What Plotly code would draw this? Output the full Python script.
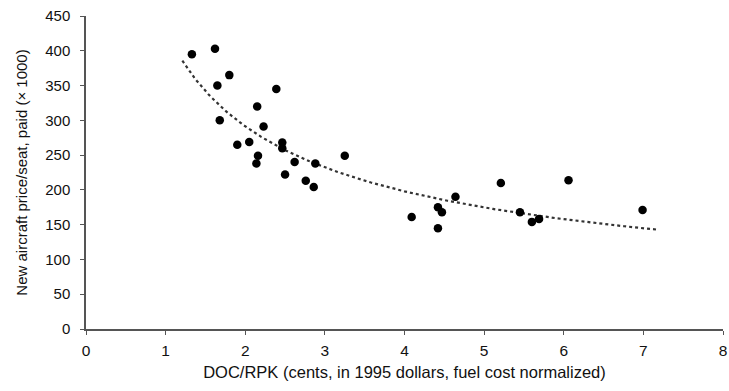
import numpy as np
import plotly.graph_objects as go

doc_rpk = [1.33, 1.62, 1.80, 1.65, 1.68, 1.90, 2.05, 2.15, 2.16, 2.14, 2.23, 2.39,
           2.465, 2.465, 2.62, 2.50, 2.88, 2.76, 2.86, 3.25,
           4.09, 4.42, 4.47, 4.42, 4.64, 5.21, 5.45, 5.60, 5.69, 6.06, 6.99]
price_seat = [395, 403, 365, 350, 300, 265, 269, 320, 249, 238, 291, 345,
              268, 260, 240, 222, 238, 213, 204, 249,
              161, 175, 168, 145, 190, 210, 168, 154, 158, 214, 171]

# power-law trendline (as drawn in the reference)
trend_a = 429.0
trend_b = -0.558
trend_x_start, trend_x_end = 1.21, 7.18

x_ticks = [0, 1, 2, 3, 4, 5, 6, 7, 8]
y_ticks = [0, 50, 100, 150, 200, 250, 300, 350, 400, 450]

tx = np.linspace(trend_x_start, trend_x_end, 200)
ty = trend_a * tx ** trend_b

fig = go.Figure()
fig.add_trace(go.Scatter(x=tx, y=ty, mode="lines",
                         line=dict(color="#333333", width=2.2, dash="dot"),
                         hoverinfo="skip", showlegend=False))
fig.add_trace(go.Scatter(x=doc_rpk, y=price_seat, mode="markers",
                         marker=dict(color="black", size=8.5),
                         showlegend=False))

font = "Liberation Sans, Arial, sans-serif"
fig.update_layout(
    width=729, height=391,
    margin=dict(l=86, r=6, t=16, b=62),
    paper_bgcolor="white", plot_bgcolor="white",
    font=dict(family=font, size=15, color="#111111"),
    xaxis=dict(range=[0, 8], tickvals=x_ticks, ticks="outside", ticklen=4,
               tickcolor="#555555", showline=True, linecolor="#555555", linewidth=1.5,
               showgrid=False, zeroline=False, ticklabeloverflow="allow",
               automargin="height",
               ticklabelstandoff=3, tickfont=dict(size=15.5),
               title=dict(text="DOC/RPK (cents, in 1995 dollars, fuel cost normalized)",
                          standoff=8, font=dict(size=16.5))),
    yaxis=dict(range=[0, 450], tickvals=y_ticks, ticks="outside", ticklen=4,
               tickcolor="#555555", showline=True, linecolor="#555555", linewidth=1.5,
               showgrid=False, zeroline=False, ticklabelstandoff=7,
               automargin="width",
               tickfont=dict(size=15),
               title=dict(text="New aircraft price/seat, paid (× 1000)",
                          standoff=14, font=dict(size=15))),
)

fig.write_html("out.html")
